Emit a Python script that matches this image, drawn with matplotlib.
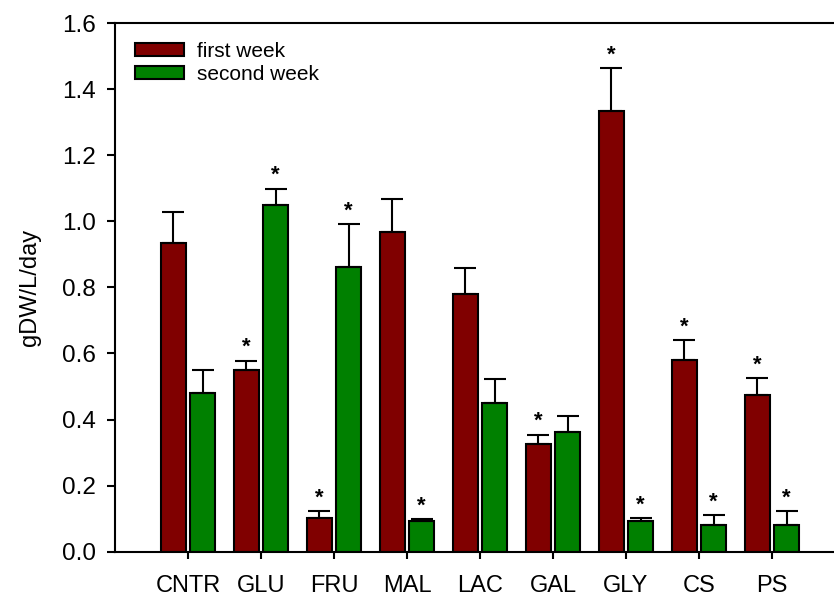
import numpy as np
import matplotlib.pyplot as plt

plt.rcParams['font.family'] = ['Liberation Sans', 'DejaVu Sans']

# Produtividade de biomassa por fonte de carbono
fontes = ["CNTR", "GLU", "FRU", "MAL", "LAC", "GAL", "GLY", "CS", "PS"]
semana1 = [0.935, 0.549, 0.101, 0.967, 0.781, 0.325, 1.334, 0.581, 0.474]
semana1_erro = [0.093, 0.029, 0.021, 0.100, 0.079, 0.029, 0.130, 0.060, 0.051]
semana2 = [0.481, 1.051, 0.862, 0.093, 0.451, 0.362, 0.094, 0.082, 0.082]
semana2_erro = [0.070, 0.048, 0.129, 0.005, 0.071, 0.049, 0.007, 0.029, 0.041]
# Diferença significativa (*)
sig1 = [False, True, True, False, False, True, True, True, True]
sig2 = [False, True, True, True, False, False, True, True, True]

x = np.arange(len(fontes))
larg = 0.35
desl = 0.2

fig = plt.figure(figsize=(8.34, 5.97), dpi=100)
ax = fig.add_axes([0.138, 0.076, 0.862, 0.885])

err_kw = dict(elinewidth=1.5, capthick=1.5, ecolor="black")
ax.bar(x - desl, semana1, larg, color="#800000", edgecolor="black", linewidth=1.5,
       yerr=[np.zeros(len(x)), semana1_erro], capsize=8, error_kw=err_kw, label="first week")
ax.bar(x + desl, semana2, larg, color="#008000", edgecolor="black", linewidth=1.5,
       yerr=[np.zeros(len(x)), semana2_erro], capsize=8, error_kw=err_kw, label="second week")

for i in range(len(x)):
    if sig1[i]:
        ax.text(x[i] - desl, semana1[i] + semana1_erro[i] + 0.04, "*", ha="center", va="center",
                fontsize=16, fontweight="bold")
    if sig2[i]:
        ax.text(x[i] + desl, semana2[i] + semana2_erro[i] + 0.04, "*", ha="center", va="center",
                fontsize=16, fontweight="bold")

ax.set_xlim(-1.0, 8.85)
ax.set_ylim(0, 1.6)
ax.set_yticks(np.arange(0, 1.61, 0.2))
ax.set_yticklabels([f"{v:.1f}" for v in np.arange(0, 1.61, 0.2)])
ax.set_xticks(x)
ax.set_xticklabels(fontes)
ax.tick_params(axis="y", direction="out", length=6, width=1.5, labelsize=17.5, pad=8)
ax.tick_params(axis="x", direction="out", length=5, width=1.5, labelsize=17, pad=12)
ax.set_ylabel("gDW/L/day", fontsize=17, labelpad=15)

ax.spines["right"].set_visible(False)
for s in ["left", "top", "bottom"]:
    ax.spines[s].set_linewidth(1.5)

ax.legend(loc="upper left", frameon=False, fontsize=15, handlelength=2.35, handleheight=0.6,
          borderaxespad=0.2, bbox_to_anchor=(0.01, 0.989), labelspacing=0.2, handletextpad=0.62)

plt.savefig("out.png", dpi=100)
